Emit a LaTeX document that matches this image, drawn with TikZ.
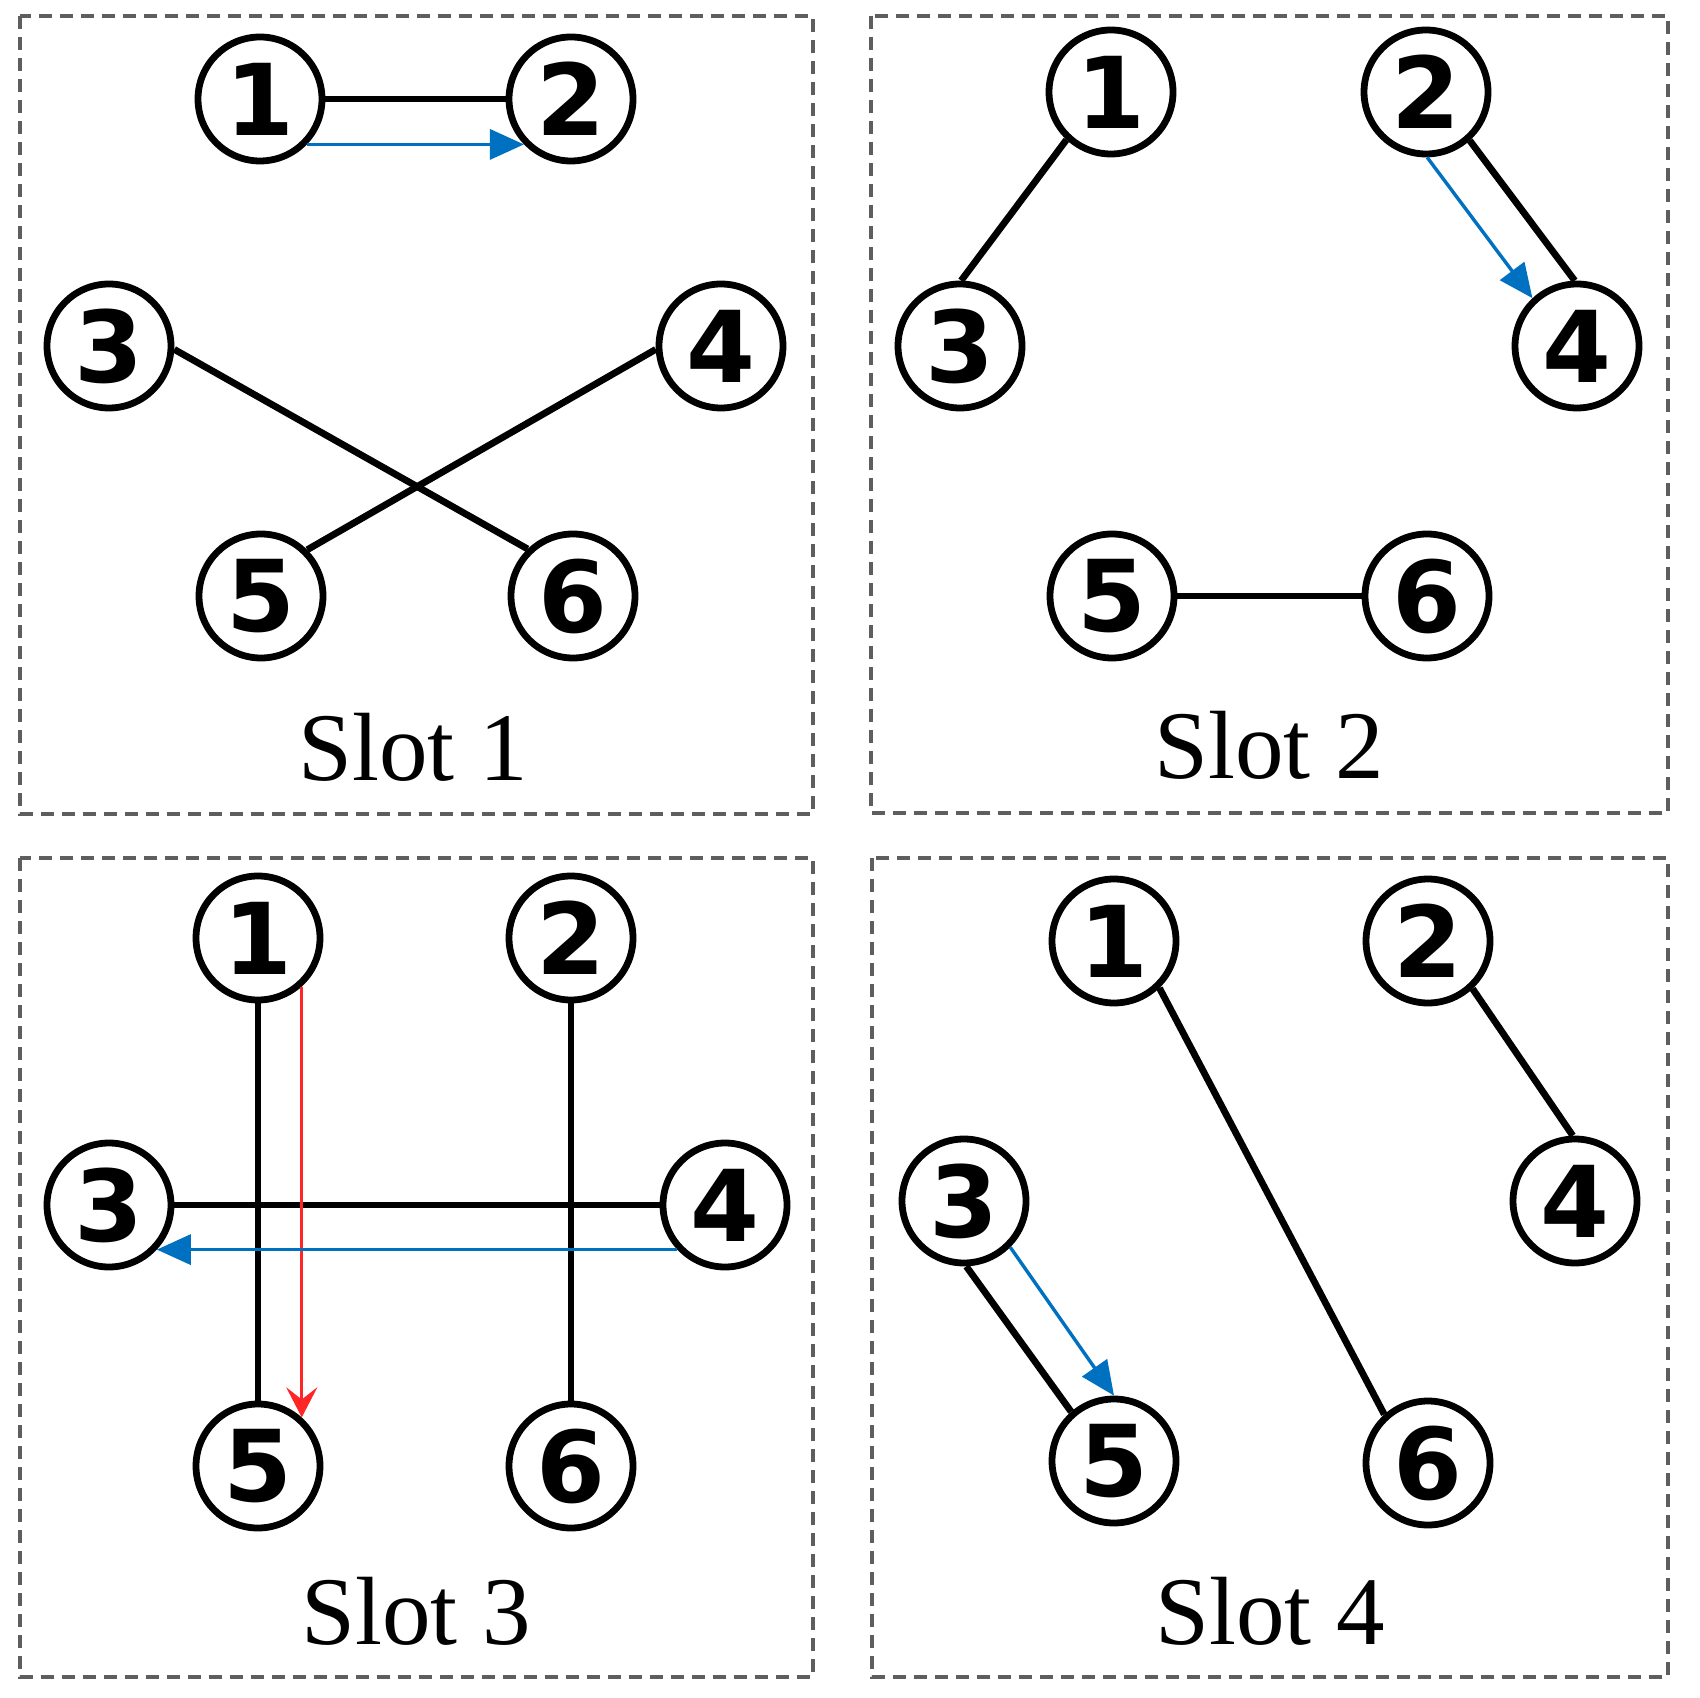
\documentclass[tikz,border=0pt]{standalone}
\usepackage{fontspec}
\setmainfont{Liberation Serif}
\newfontfamily\numfont{DejaVu Sans}
\usetikzlibrary{arrows.meta}
\definecolor{myblue}{HTML}{0070C0}
\definecolor{myred}{HTML}{FF2626}
\definecolor{boxgray}{HTML}{5E5E5E}
\begin{document}
\begin{tikzpicture}[x=0.1mm,y=-0.1mm,
  vtx/.style={circle,draw,line width=0.68mm,minimum size=12.4mm,inner sep=0pt,
    font={\numfont\bfseries\fontsize{28.2pt}{30pt}\selectfont}},
  edge/.style={line width=0.68mm},
  barrow/.style={myblue,line width=0.34mm,-{Triangle[length=3.4mm,width=3.0mm]}},
  rarrow/.style={myred,line width=0.34mm,-{Stealth[length=3.0mm,width=3.1mm,inset=1.2mm]}},
  slotbox/.style={boxgray,line width=0.4mm,dash pattern=on 1.3mm off 0.8mm},
  slotlabel/.style={anchor=base,font={\fontsize{27.6pt}{30pt}\selectfont}}]
\fill[white] (0,0) rectangle (1700,1697);
\useasboundingbox (0,0) rectangle (1700,1697);

% ---------- Slot 1 ----------
\draw[slotbox] (20,16) rectangle (813,814);
\node[vtx] (a1) at (260,99) {1};
\node[vtx] (a2) at (571,99) {2};
\node[vtx] (a3) at (109,346) {3};
\node[vtx] (a4) at (721,346) {4};
\node[vtx] (a5) at (261,596) {5};
\node[vtx] (a6) at (573,596) {6};
\node[slotlabel] (la) at (413,780) {Slot 1};
\draw[edge] (a1) -- (a2);
\draw[edge] (a3.-3) -- (a6.134);
\draw[edge] (a4.183.5) -- (a5.45);
\draw[barrow] (a1.-44) -- (a2.224);

% ---------- Slot 2 ----------
\draw[slotbox] (871,16) rectangle (1668,813);
\node[vtx] (b1) at (1111,92) {1};
\node[vtx] (b2) at (1426,92) {2};
\node[vtx] (b3) at (960,346) {3};
\node[vtx] (b4) at (1577,346) {4};
\node[vtx] (b5) at (1112,596) {5};
\node[vtx] (b6) at (1427,596) {6};
\node[slotlabel] (lb) at (1269,778) {Slot 2};
\draw[edge] (b1.227) -- (b3.89);
\draw[edge] (b2.-48) -- (b4.92);
\draw[barrow] (b2.-89) -- (b4.133);
\draw[edge] (b5) -- (b6);

% ---------- Slot 3 ----------
\draw[slotbox] (20,858) rectangle (813,1677);
\node[vtx] (c1) at (258,938) {1};
\node[vtx] (c2) at (571,938) {2};
\node[vtx] (c3) at (109,1205) {3};
\node[vtx] (c4) at (725,1205) {4};
\node[vtx] (c5) at (258,1466) {5};
\node[vtx] (c6) at (571,1466) {6};
\node[slotlabel] (lc) at (416,1644) {Slot 3};
\draw[edge] (c1) -- (c5);
\draw[edge] (c2) -- (c6);
\draw[edge] (c3) -- (c4);
\draw[rarrow] (c1.-48) -- (c5.48);
\draw[barrow] (c4.223) -- (c3.-43);

% ---------- Slot 4 ----------
\draw[slotbox] (872,858) rectangle (1668,1677);
\node[vtx] (d1) at (1114,941) {1};
\node[vtx] (d2) at (1428,941) {2};
\node[vtx] (d3) at (964,1201) {3};
\node[vtx] (d4) at (1575,1201) {4};
\node[vtx] (d5) at (1114,1461) {5};
\node[vtx] (d6) at (1428,1463) {6};
\node[slotlabel] (ld) at (1270,1644) {Slot 4};
\draw[edge] (d1.-46) -- (d6.132);
\draw[edge] (d2.-47) -- (d4.92);
\draw[edge] (d3.-88) -- (d5.131);
\draw[barrow] (d3.-45) -- (d5.90);
\end{tikzpicture}
\end{document}
